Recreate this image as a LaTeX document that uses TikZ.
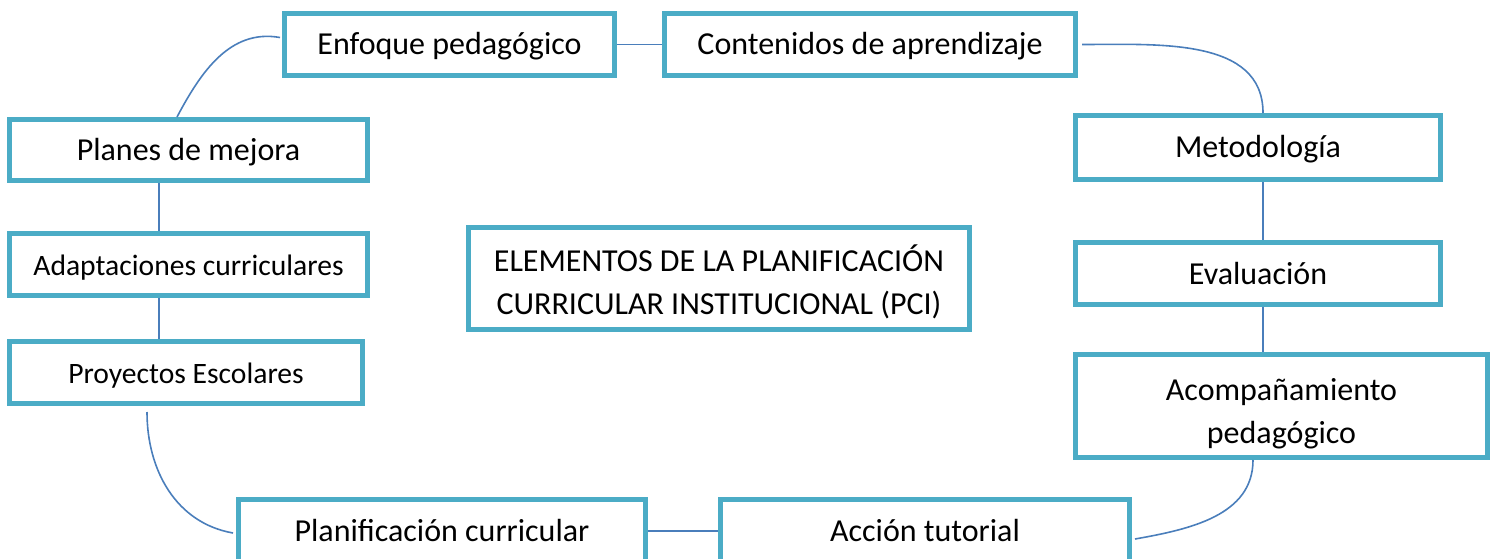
\documentclass[tikz,border=0pt]{standalone}
\usepackage{fontspec}
\setmainfont{Carlito}
\definecolor{boxcyan}{HTML}{4BACC6}
\definecolor{linkblue}{HTML}{4A7EBB}

\begin{document}
\begin{tikzpicture}[x=1pt, y=1pt, font=\fontsize{32}{43}\selectfont,
  box/.style={draw=boxcyan, line width=5pt, fill=white, inner sep=0pt, align=center, text height=28pt, text depth=7pt},
  twobox/.style={draw=boxcyan, line width=5pt, fill=white, inner sep=0pt},
  small/.style={font=\fontsize{29.6}{40}\selectfont},
  link/.style={draw=linkblue, line width=1.6pt}]

  \clip (0,0) rectangle (1495,558);

  \node[box, minimum width=330, minimum height=62] (enfoque) at (449.5,513.5) {Enfoque pedagógico};
  \node[box, minimum width=411, minimum height=62] (contenidos) at (870,513.5) {Contenidos de aprendizaje};
  \node[box, minimum width=365, minimum height=64] (metodologia) at (1258,410.5) {Metodología};
  \node[box, minimum width=365, minimum height=62] (evaluacion) at (1258,284.5) {Evaluación};
  \node[twobox, minimum width=412, minimum height=103,
    label={[align=center, yshift=-8pt]center:Acompañamiento\\pedagógico}] (acomp) at (1281.5,152) {};
  \node[box, minimum width=409, minimum height=63] (accion) at (925,27) {Acción tutorial};
  \node[box, minimum width=407, minimum height=63] (planif) at (442,27) {Planificación curricular};
  \node[box, minimum width=358, minimum height=61] (planes) at (188.5,408) {Planes de mejora};
  \node[box, small, minimum width=358, minimum height=62] (adapt) at (188.5,293.5) {Adaptaciones curriculares};
  \node[box, small, minimum width=353, minimum height=62] (proy) at (186,185.5) {Proyectos Escolares};
  \node[twobox, minimum width=501, minimum height=102,
    label={[align=center, yshift=-3pt]center:ELEMENTOS DE LA PLANIFICACIÓN\\CURRICULAR INSTITUCIONAL (PCI)}] (pci) at (719,279.5) {};

  \draw[link] (enfoque.east) -- (contenidos.west);
  \draw[link] ([xshift=4pt]contenidos.east) to[out=0, in=90] ([xshift=5pt]metodologia.north);
  \draw[link] ([xshift=5pt]metodologia.south) -- ([xshift=5pt]evaluacion.north);
  \draw[link] ([xshift=5pt]evaluacion.south) -- ([xshift=-18.5pt]acomp.north);
  \draw[link] ([xshift=-28.5pt]acomp.south) to[out=-90, in=10] ([xshift=3pt, yshift=-8pt]accion.east);
  \draw[link] (planif.east) -- (accion.west);
  \draw[link] ([xshift=-39pt, yshift=-6pt]proy.south) to[out=-90, in=170] ([xshift=-3pt, yshift=-2pt]planif.west);
  \draw[link] ([xshift=-29.5pt]planes.south) -- ([xshift=-29.5pt]adapt.north);
  \draw[link] ([xshift=-29.5pt]adapt.south) -- ([xshift=-27pt]proy.north);
  \draw[link] ([xshift=-11.5pt]planes.north) to[out=62, in=170] ([xshift=-2pt, yshift=7pt]enfoque.west);

\end{tikzpicture}
\end{document}
